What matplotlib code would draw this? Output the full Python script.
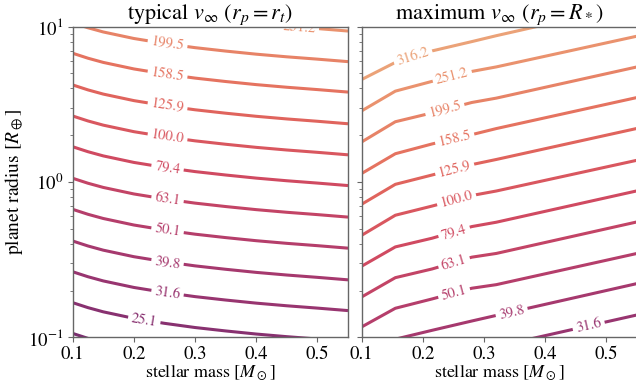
import numpy as np
import matplotlib
matplotlib.use("Agg")
import matplotlib.pyplot as plt
from matplotlib.colors import LinearSegmentedColormap

plt.rcParams["font.family"] = "STIXGeneral"
plt.rcParams["mathtext.fontset"] = "stix"

# contour levels of v_inf (values printed on the inline labels)
levels_left = [20.0, 25.1, 31.6, 39.8, 50.1, 63.1, 79.4, 100.0, 125.9, 158.5, 199.5, 251.2]
levels_right = [31.6, 39.8, 50.1, 63.1, 79.4, 100.0, 125.9, 158.5, 199.5, 251.2, 316.2]

# left panel: log10 planet radius of each contour at these stellar masses
mass_left = [0.1, 0.125, 0.15, 0.2, 0.25, 0.3, 0.35, 0.4, 0.45, 0.5, 0.55]
logr_left = [
    [-0.975, -1.007, -1.034, -1.076, -1.108, -1.135, -1.157, -1.177, -1.194, -1.209, -1.225],
    [-0.777, -0.809, -0.836, -0.878, -0.910, -0.937, -0.959, -0.979, -0.996, -1.011, -1.027],
    [-0.578, -0.610, -0.637, -0.679, -0.711, -0.738, -0.760, -0.780, -0.797, -0.812, -0.828],
    [-0.380, -0.412, -0.439, -0.481, -0.513, -0.540, -0.562, -0.582, -0.599, -0.614, -0.630],
    [-0.176, -0.208, -0.235, -0.277, -0.309, -0.336, -0.358, -0.378, -0.395, -0.410, -0.426],
    [0.024, -0.008, -0.035, -0.077, -0.109, -0.136, -0.158, -0.178, -0.195, -0.210, -0.226],
    [0.227, 0.195, 0.168, 0.126, 0.094, 0.067, 0.045, 0.025, 0.008, -0.007, -0.023],
    [0.425, 0.393, 0.366, 0.324, 0.292, 0.265, 0.243, 0.223, 0.206, 0.191, 0.175],
    [0.625, 0.593, 0.566, 0.524, 0.492, 0.465, 0.443, 0.423, 0.406, 0.391, 0.375],
    [0.829, 0.797, 0.770, 0.728, 0.696, 0.669, 0.647, 0.627, 0.610, 0.595, 0.579],
    [1.025, 0.993, 0.966, 0.924, 0.892, 0.865, 0.843, 0.823, 0.806, 0.791, 0.775],
    [1.222, 1.190, 1.163, 1.121, 1.089, 1.062, 1.040, 1.020, 1.003, 0.988, 0.972],
]
# stellar mass where each left contour carries its label (None = unlabelled)
label_mass_left = [None, 0.217, 0.255, 0.255, 0.255, 0.255, 0.255, 0.255, 0.255, 0.255, 0.255, 0.47]

# right panel
mass_right = [0.1, 0.155, 0.215, 0.28, 0.32, 0.55]
logr_right = [
    [-1.32, -1.21, -1.15, -1.09, -1.06, -0.856],
    [-1.12, -1.012, -0.955, -0.895, -0.859, -0.654],
    [-0.933, -0.813, -0.753, -0.684, -0.661, -0.460],
    [-0.740, -0.616, -0.560, -0.484, -0.460, -0.257],
    [-0.542, -0.418, -0.362, -0.287, -0.259, -0.057],
    [-0.343, -0.214, -0.155, -0.087, -0.058, 0.140],
    [-0.143, -0.015, 0.045, 0.112, 0.145, 0.345],
    [0.055, 0.182, 0.245, 0.305, 0.344, 0.544],
    [0.258, 0.388, 0.445, 0.512, 0.540, 0.741],
    [0.458, 0.585, 0.648, 0.712, 0.741, 0.939],
    [0.660, 0.770, 0.844, 0.904, 0.942, 1.147],
]
label_mass_right = [0.471, 0.345, 0.251, 0.251, 0.251, 0.255, 0.252, 0.252, 0.236, 0.248, 0.184]

# flare-like colormap, dark purple for slow winds, peach for fast ones
flare = LinearSegmentedColormap.from_list(
    "flare_like",
    ["#EDB081", "#E98D6B", "#E3685C", "#D14A61", "#B13C6C", "#8F3371", "#6C2B6D", "#4B2362"])


def level_color(v):
    return flare(0.80 - (np.log10(v) - 1.3) * 0.617)


fig = plt.figure(figsize=(6.36, 3.84), dpi=100)
ax1 = fig.add_axes([0.1143, 0.1216, 0.4329, 0.8089])
ax2 = fig.add_axes([0.5687, 0.1216, 0.4329, 0.8089], sharey=ax1)

for ax in (ax1, ax2):
    ax.set_yscale("log")
    ax.set_xlim(0.1, 0.55)
    ax.set_ylim(0.1, 10)
    ax.set_xticks([0.1, 0.2, 0.3, 0.4, 0.5])
    ax.set_xlabel(r"stellar mass [$M_\odot$]", fontsize=13, labelpad=0.5)
    for sp in ax.spines.values():
        sp.set_color("0.4")
        sp.set_linewidth(1.0)
        sp.set_zorder(5)
    ax.tick_params(which="both", color="0.4", labelsize=13.5)
    ax.tick_params(axis="x", pad=2.5)
ax2.tick_params(labelleft=False)
ax1.set_ylabel(r"planet radius [$R_\oplus$]", fontsize=14, labelpad=2)
ax1.set_title(r"typical $v_\infty$ ($r_p = r_t$)", fontsize=16, pad=4)
ax2.set_title(r"maximum $v_\infty$ ($r_p = R_*$)", fontsize=16, pad=4)


def draw_panel(ax, masses, logr, levels, label_mass):
    for lev, row, xl in zip(levels, logr, label_mass):
        c = level_color(lev)
        ax.plot(masses, 10 ** np.array(row), color=c, lw=2.2, solid_capstyle="butt")
        if xl is None:
            continue
        yl = 10 ** np.interp(xl, masses, row)
        dx = 0.01
        p = ax.transData.transform([(xl - dx, 10 ** np.interp(xl - dx, masses, row)),
                                    (xl + dx, 10 ** np.interp(xl + dx, masses, row))])
        ang = np.degrees(np.arctan2(p[1, 1] - p[0, 1], p[1, 0] - p[0, 0]))
        ax.text(xl, yl, "%.1f" % lev, color=c, fontsize=10.5, rotation=ang,
                rotation_mode="anchor", ha="center", va="center", clip_on=True,
                bbox=dict(fc="white", ec="none", pad=2.5))


draw_panel(ax1, mass_left, logr_left, levels_left, label_mass_left)
draw_panel(ax2, mass_right, logr_right, levels_right, label_mass_right)

fig.savefig("out.png", dpi=100)
